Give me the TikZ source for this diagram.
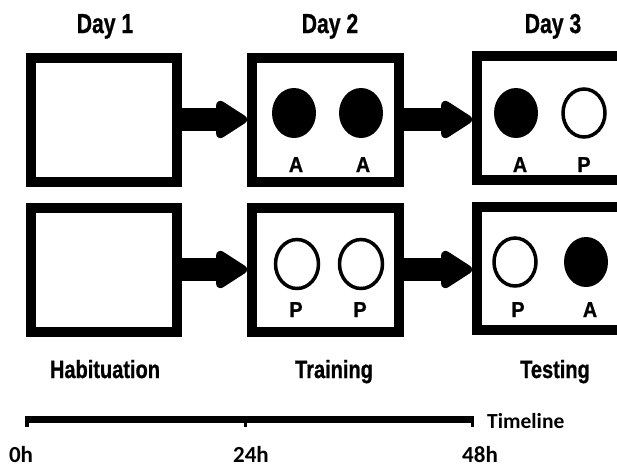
\documentclass[tikz,border=0pt]{standalone}
\usepackage{fontspec}
\usepackage{graphicx}
\setmainfont{Liberation Sans}[BoldFeatures={FakeBold=1}]
\newfontfamily\calib{Carlito}
\usetikzlibrary{arrows.meta,shapes.geometric}
\newcommand{\narrowtxt}[2]{\scalebox{#1}[1]{#2}}
\begin{document}
\begin{tikzpicture}[x=1pt,y=-1pt,
  cage/.style={rectangle, draw, line width=10pt, minimum width=146pt, minimum height=124pt, inner sep=0pt},
  objA/.style={ellipse, fill=black, minimum width=44pt, minimum height=50pt, inner sep=0pt},
  objP/.style={ellipse, draw, line width=3.5pt, fill=white, minimum width=42pt, minimum height=48pt, inner sep=0pt},
  blockarrow/.style={line width=23pt, -{Triangle[length=35pt,width=42pt,round]}},
  daylbl/.style={anchor=base, inner sep=0pt, font=\fontsize{27.5}{30}\selectfont\bfseries},
  phaselbl/.style={anchor=base, inner sep=0pt, font=\fontsize{25}{28}\selectfont\bfseries},
  objlbl/.style={anchor=base, inner sep=0pt, font=\fontsize{21.5}{24}\selectfont\bfseries},
  hourlbl/.style={anchor=base, inner sep=0pt, font=\fontsize{23}{26}\selectfont\calib\bfseries},
  timelbl/.style={anchor=base west, inner sep=0pt, font=\fontsize{21.5}{25}\selectfont\calib\bfseries}
]
\useasboundingbox (0,0) rectangle (617,467);
\clip (0,0) rectangle (617,467);

% headings
\node[daylbl] (d1) at (105,33) {\narrowtxt{0.77}{Day 1}};
\node[daylbl] (d2) at (330,33) {\narrowtxt{0.77}{Day 2}};
\node[daylbl] (d3) at (553,33) {\narrowtxt{0.77}{Day 3}};

% top row boxes
\node[cage] (b1) at (103.7,119.5) {};
\node[cage, minimum width=147pt] (b2) at (325.5,119.5) {};
\node[cage, minimum width=160pt] (b3) at (557,118) {};
% bottom row boxes
\node[cage] (c1) at (103.5,269.5) {};
\node[cage, minimum width=147pt] (c2) at (325.5,269.5) {};
\node[cage, minimum width=160pt, minimum height=123pt] (c3) at (557,268.5) {};

% arrows
\draw[blockarrow] (b1.east) -- (b1.east -| b2.west);
\draw[blockarrow] (b2.east) -- (b2.east -| b3.west);
\draw[blockarrow] (c1.east) -- (c1.east -| c2.west);
\draw[blockarrow] (c2.east) -- (c2.east -| c3.west);

% objects, top row
\node[objA] (o1) at (294,113) {};
\node[objA] (o2) at (361,113) {};
\node[objA] (o3) at (516,113) {};
\node[objP] (o4) at (584,113) {};
\node[objlbl] (l1) at (296,172) {\narrowtxt{0.92}{A}};
\node[objlbl] (l2) at (363,172) {\narrowtxt{0.92}{A}};
\node[objlbl] (l3) at (520,172) {\narrowtxt{0.92}{A}};
\node[objlbl] (l4) at (584,172) {\narrowtxt{0.92}{P}};

% objects, bottom row
\node[objP, minimum width=43pt, minimum height=49pt] (p1) at (297,264) {};
\node[objP, minimum width=43pt, minimum height=49pt] (p2) at (361,264) {};
\node[objP] (p3) at (515,262) {};
\node[objA] (p4) at (586,262) {};
\node[objlbl] (m1) at (296,317) {\narrowtxt{0.92}{P}};
\node[objlbl] (m2) at (360,317) {\narrowtxt{0.92}{P}};
\node[objlbl] (m3) at (518,317) {\narrowtxt{0.92}{P}};
\node[objlbl] (m4) at (590,317) {\narrowtxt{0.92}{A}};

% phase labels
\node[phaselbl] (h1) at (105,378) {\narrowtxt{0.8}{Habituation}};
\node[phaselbl] (h2) at (334,378) {\narrowtxt{0.8}{Training}};
\node[phaselbl] (h3) at (555,378) {\narrowtxt{0.8}{Testing}};

% timeline
\coordinate (t0) at (25,419);
\coordinate (t24) at (245,419);
\coordinate (t48) at (474,419);
\draw[line width=7pt] (t0) -- (t48);
\fill (25,419) rectangle (29,427);
\fill (243.5,419) rectangle (246.5,427);
\fill (470.5,419) rectangle (474,427);
\node[timelbl] (tl) at (487,428) {Timeline};
\node[hourlbl] (h0) at (21,462) {0h};
\node[hourlbl] (h24) at (251,462) {24h};
\node[hourlbl] (h48) at (480,462) {48h};
\end{tikzpicture}
\end{document}
